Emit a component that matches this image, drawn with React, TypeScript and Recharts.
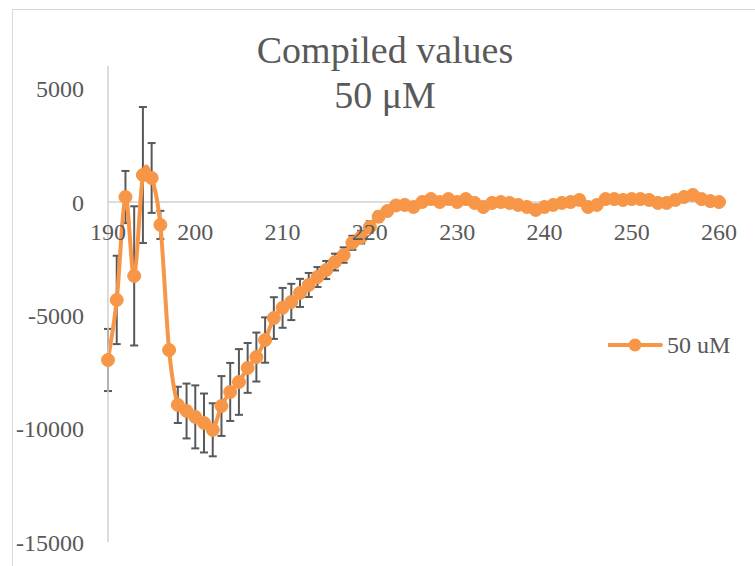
import React from 'react';
import { LineChart, Line, XAxis, YAxis, ErrorBar, ReferenceLine, ReferenceDot, Legend } from 'recharts';

const wavelengths = [
  190, 191, 192, 193, 194, 195, 196, 197, 198, 199,
  200, 201, 202, 203, 204, 205, 206, 207, 208, 209,
  210, 211, 212, 213, 214, 215, 216, 217, 218, 219,
  220, 221, 222, 223, 224, 225, 226, 227, 228, 229,
  230, 231, 232, 233, 234, 235, 236, 237, 238, 239,
  240, 241, 242, 243, 244, 245, 246, 247, 248, 249,
  250, 251, 252, 253, 254, 255, 256, 257, 258, 259,
  260,
];

const meanValues = [
  -6970, -4320, 220, -3260, 1190, 1060, -1010, -6530, -8950, -9220,
  -9480, -9750, -10050, -9000, -8380, -7940, -7320, -6840, -6090, -5120,
  -4670, -4410, -4010, -3660, -3310, -3000, -2650, -2340, -1800, -1550,
  -1100, -650, -400, -150, -130, -220, 0, 130, 0, 130,
  0, 130, -40, -220, -40, 0, -40, -130, -220, -350,
  -220, -130, -40, 0, 90, -220, -130, 130, 130, 90,
  130, 130, 90, -40, -40, 90, 220, 310, 130, 40,
  0,
];

const errorValues = [
  1370, 1950, 1150, 3070, 3000, 1540, 620, 150, 800, 1210,
  1390, 1300, 1170, 1320, 1280, 1450, 1100, 1080, 1000, 920,
  880, 800, 620, 530, 440, 400, 370, 340, 310, 280,
  250, 220, 150, 100, 80, 80, 80, 80, 80, 80,
  80, 80, 80, 80, 80, 80, 80, 80, 80, 80,
  80, 80, 80, 80, 80, 80, 80, 80, 80, 80,
  80, 80, 80, 80, 80, 80, 80, 80, 80, 80,
  80,
];

const yTicks = [-15000, -10000, -5000, 0, 5000];
const xTickLabels = [190, 200, 210, 220, 230, 240, 250, 260];
const seriesName = '50 uM';
const titleLines = ['Compiled values', '50 μM'];

const data = wavelengths.map((nm, i) => ({ nm, value: meanValues[i], err: errorValues[i] }));

const FONT = "'Liberation Serif', serif";
const TEXT = '#595959';
const ORANGE = '#F79646';
const GRID = '#D0D0D0';

// Excel-like smoothed line (Catmull-Rom style Bezier)
const excelSmooth = (context: any) => {
  let pts: number[][] = [];
  return {
    areaStart() {},
    areaEnd() {},
    lineStart() {
      pts = [];
    },
    point(x: number, y: number) {
      pts.push([+x, +y]);
    },
    lineEnd() {
      const n = pts.length;
      if (n === 0) return;
      context.moveTo(pts[0][0], pts[0][1]);
      for (let i = 0; i < n - 1; i++) {
        const p0 = pts[i > 0 ? i - 1 : i];
        const p1 = pts[i];
        const p2 = pts[i + 1];
        const p3 = pts[i + 2 < n ? i + 2 : i + 1];
        context.bezierCurveTo(
          p1[0] + (p2[0] - p0[0]) / 6,
          p1[1] + (p2[1] - p0[1]) / 6,
          p2[0] - (p3[0] - p1[0]) / 6,
          p2[1] - (p3[1] - p1[1]) / 6,
          p2[0],
          p2[1]
        );
      }
    },
  };
};

const renderLegend = (props: any) => {
  const item = props && props.payload && props.payload[0];
  const label = item ? item.value : seriesName;
  return (
    <svg width={135} height={26} style={{ display: 'block' }}>
      <line x1={1} y1={13} x2={53} y2={13} stroke={ORANGE} strokeWidth={4} strokeLinecap="round" />
      <circle cx={27} cy={13} r={6.5} fill={ORANGE} />
      <text x={59} y={21} fontSize={24} fontFamily={FONT} fill={TEXT}>
        {label}
      </text>
    </svg>
  );
};

export default function App() {
  return (
    <div
      style={{
        position: 'absolute',
        left: 0,
        top: 0,
        width: 755,
        height: 566,
        overflow: 'hidden',
        background: '#ffffff',
      }}
    >
      <div
        style={{
          position: 'absolute',
          left: 12,
          top: 9,
          width: 800,
          height: 600,
          border: '1.5px solid #D9D9D9',
        }}
      />
      <div style={{ position: 'absolute', left: 0, top: 0 }}>
        <LineChart
          width={755}
          height={566}
          data={data}
          margin={{ top: 66, right: 36, bottom: 24, left: 0 }}
        >
          <XAxis dataKey="nm" type="number" domain={[190, 260]} hide />
          <YAxis
            type="number"
            domain={[-15000, 6000]}
            ticks={yTicks}
            interval={0}
            width={108}
            tickLine={false}
            tickSize={0}
            tickMargin={24}
            axisLine={{ stroke: GRID, strokeWidth: 1.5 }}
            tick={{ fill: TEXT, fontSize: 24, fontFamily: FONT }}
          />
          <ReferenceLine y={0} stroke={GRID} strokeWidth={1.5} />
          {xTickLabels.map((t) => (
            <ReferenceDot
              key={t}
              x={t}
              y={0}
              r={0}
              fill="none"
              stroke="none"
              label={{
                value: String(t),
                position: 'bottom',
                offset: 21,
                fill: TEXT,
                fontSize: 24,
                fontFamily: FONT,
              }}
            />
          ))}
          <Legend
            layout="vertical"
            align="center"
            verticalAlign="middle"
            content={renderLegend}
            wrapperStyle={{ left: 608, top: 332, width: 135, height: 26 }}
          />
          <Line
            dataKey="value"
            name={seriesName}
            type={excelSmooth as any}
            stroke={ORANGE}
            strokeWidth={4}
            dot={{ r: 6.5, fill: ORANGE, stroke: ORANGE, strokeWidth: 1 }}
            activeDot={false}
            isAnimationActive={false}
          >
            <ErrorBar dataKey="err" direction="y" width={4} stroke={TEXT} strokeWidth={2} />
          </Line>
        </LineChart>
      </div>
      <div
        style={{
          position: 'absolute',
          left: 0,
          top: 28,
          width: 770,
          textAlign: 'center',
          fontFamily: FONT,
          fontSize: 38,
          lineHeight: '45px',
          color: TEXT,
          pointerEvents: 'none',
        }}
      >
        {titleLines.map((l) => (
          <div key={l}>{l}</div>
        ))}
      </div>
    </div>
  );
}
